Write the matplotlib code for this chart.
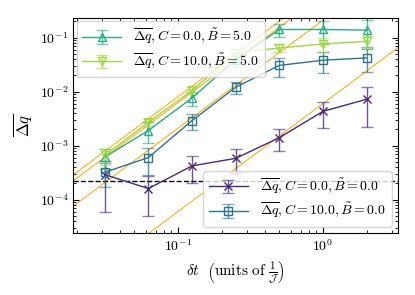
import matplotlib
matplotlib.use("Agg")
import matplotlib.pyplot as plt
import numpy as np

plt.rcParams['mathtext.fontset'] = 'cm'
plt.rcParams['font.family'] = 'serif'
plt.rcParams['font.serif'] = ['cmr10', 'DejaVu Serif']
plt.rcParams['axes.formatter.use_mathtext'] = True
plt.rcParams['font.size'] = 10

# time steps
dt = np.array([1/32, 1/16, 1/8, 1/4, 1/2, 1, 2])

# C=0, B=0
q_c0_b0 = [2.9e-4, 1.6e-4, 4.2e-4, 5.8e-4, 1.4e-3, 4.3e-3, 7.2e-3]
e_c0_b0 = [2.3e-4, 1.1e-4, 2.2e-4, 2.7e-4, 6.1e-4, 2.2e-3, 5.0e-3]
# C=10, B=0
q_c10_b0 = [3.2e-4, 6.0e-4, 2.9e-3, 1.2e-2, 3.05e-2, 3.8e-2, 4.2e-2]
e_c10_b0 = [1.5e-4, 3.2e-4, 9.5e-4, 3.0e-3, 1.2e-2, 1.55e-2, 1.9e-2]
# C=0, B=5
q_c0_b5 = [6.1e-4, 1.9e-3, 7.6e-3, 3.9e-2, 0.141, 0.141, 0.137]
e_c0_b5 = [2.4e-4, 8.0e-4, 2.1e-3, 1.0e-2, 0.04, 0.065, 0.07]
# C=10, B=5
q_c10_b5 = [6.6e-4, 2.7e-3, 1.05e-2, 5.2e-2, 6.4e-2, 7.6e-2, 8.5e-2]
e_c10_b5 = [2.2e-4, 4.0e-4, 1.5e-3, 1.0e-2, 1.1e-2, 2.1e-2, 2.1e-2]

# dt^2 guide lines prefactors
guide_a = [0.8, 0.62, 0.21, 6.0e-3]
threshold = 2.25e-4

cols = plt.cm.viridis([0.12, 0.38, 0.62, 0.85])

fig = plt.figure(figsize=(4.15, 2.95), dpi=100)
ax = fig.add_axes([0.176, 0.21, 0.783, 0.729])

xx = np.logspace(-2, 1, 50)
for a in guide_a:
    ax.plot(xx, a * xx**2, color='orange', lw=0.7, zorder=1)

ax.axhline(threshold, color='k', ls='--', lw=1, zorder=1)

def eb(y, e, c, m, lab):
    h = ax.errorbar(dt, y, yerr=e, color=c, marker=m, mfc='none' if m != 'x' else c,
                    ms=6, lw=1, capsize=4, elinewidth=1, label=lab, zorder=3)
    for cl in h[1]:
        cl.set_alpha(0.6)
    for bl in h[2]:
        bl.set_alpha(0.8)
    return h

h1 = eb(q_c0_b0, e_c0_b0, cols[0], 'x', r'$\overline{\Delta q}, C = 0.0, \tilde{B} = 0.0$')
h2 = eb(q_c10_b0, e_c10_b0, cols[1], 's', r'$\overline{\Delta q}, C = 10.0, \tilde{B} = 0.0$')
h3 = eb(q_c0_b5, e_c0_b5, cols[2], '^', r'$\overline{\Delta q}, C = 0.0, \tilde{B} = 5.0$')
h4 = eb(q_c10_b5, e_c10_b5, cols[3], 'v', r'$\overline{\Delta q}, C = 10.0, \tilde{B} = 5.0$')

ax.set_xscale('log')
ax.set_yscale('log')
ax.set_xlim(0.0189, 3.29)
ax.set_ylim(2.4e-5, 0.23)

ax.tick_params(which='both', direction='in', top=True, right=True)
ax.tick_params(which='major', length=4)
ax.tick_params(which='minor', length=2)

ax.set_xlabel(r'$\delta t\ \ \left(\mathrm{units\ of\ }\frac{1}{\mathcal{J}}\right)$', fontsize=11)
ax.set_ylabel(r'$\overline{\Delta q}$', fontsize=12)

leg1 = ax.legend(handles=[h3, h4], loc='upper left', fontsize=10, framealpha=0.8,
                 borderaxespad=0.25, handlelength=2.8, handletextpad=0.9,
                 labelspacing=0.3)
ax.add_artist(leg1)
ax.legend(handles=[h1, h2], loc='lower right', fontsize=10, framealpha=0.8,
          borderaxespad=0.45, handlelength=2.8, handletextpad=0.9,
          labelspacing=0.3)

fig.savefig('out.png', dpi=100)
